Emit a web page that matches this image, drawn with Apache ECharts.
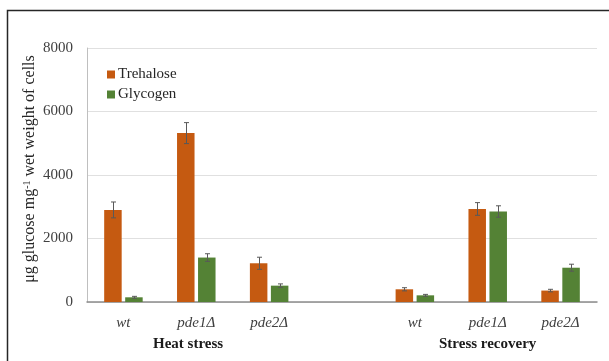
<!DOCTYPE html>
<html>
<head>
<meta charset="utf-8">
<script src="https://cdn.jsdelivr.net/npm/echarts@6/dist/echarts.min.js"></script>
<style>
html,body{margin:0;padding:0;background:#fff;}
#c{width:609px;height:361px;}
</style>
</head>
<body>
<div id="c"></div>
<script>
var categories = ['wt', 'pde1Δ', 'pde2Δ', '', 'wt', 'pde1Δ', 'pde2Δ'];
var groupLabels = ['Heat stress', 'Stress recovery'];
var trehalose = [2900, 5320, 1220, null, 400, 2930, 360];
var trehaloseErr = [250, 330, 190, null, 50, 200, 40];
var glycogen = [148, 1400, 515, null, 210, 2850, 1080];
var glycogenErr = [30, 120, 55, null, 30, 180, 110];
var yTicks = [0, 2000, 4000, 6000, 8000];

var FONT = '"Liberation Serif", "Times New Roman", serif';
var BAR_W = 17.5, BAR_GAP = 3.5;
var ORANGE = '#C55A11', GREEN = '#548235';

function errData(vals, errs) {
  var out = [];
  for (var i = 0; i < vals.length; i++) {
    if (vals[i] != null) out.push([i, vals[i], errs[i]]);
  }
  return out;
}
function errSeries(vals, errs, side) {
  return {
    type: 'custom',
    z: 5,
    silent: true,
    data: errData(vals, errs),
    encode: { x: 0, y: 1 },
    renderItem: function (params, api) {
      var i = api.value(0), v = api.value(1), e = api.value(2);
      var off = side * (BAR_W / 2 + BAR_GAP / 2);
      var top = api.coord([i, v + e]);
      var bot = api.coord([i, v - e]);
      var x = Math.round(top[0] + off) + 0.5;
      var cap = 2.5;
      var st = { stroke: '#595959', lineWidth: 1 };
      return {
        type: 'group',
        children: [
          { type: 'line', shape: { x1: x, y1: top[1], x2: x, y2: bot[1] }, style: st },
          { type: 'line', shape: { x1: x - cap, y1: top[1], x2: x + cap, y2: top[1] }, style: st },
          { type: 'line', shape: { x1: x - cap, y1: bot[1], x2: x + cap, y2: bot[1] }, style: st }
        ]
      };
    }
  };
}

var chart = echarts.init(document.getElementById('c'), null, { renderer: 'canvas' });
chart.setOption({
  animation: false,
  backgroundColor: '#fff',
  textStyle: { fontFamily: FONT },
  grid: { left: 87, right: 12, top: 48, bottom: 59 },
  legend: {
    orient: 'vertical',
    left: 102, top: 62,
    itemWidth: 8, itemHeight: 8, itemGap: 5,
    icon: 'rect',
    data: ['Trehalose', 'Glycogen'],
    textStyle: { fontFamily: FONT, fontSize: 15, color: '#262626', padding: [0, 0, 0, -2] }
  },
  xAxis: {
    type: 'category',
    data: categories,
    axisLine: { lineStyle: { color: '#8c8c8c', width: 1.5 } },
    axisTick: { show: false },
    axisLabel: { fontFamily: FONT, fontStyle: 'italic', fontSize: 15, color: '#404040', margin: 14, interval: 0 }
  },
  yAxis: {
    type: 'value',
    min: 0, max: 8000, interval: 2000,
    name: 'μg glucose mg{sup|-1} wet weight of cells',
    nameLocation: 'middle',
    nameGap: 49,
    nameMoveOverlap: false,
    nameRotate: 90,
    nameTextStyle: {
      fontFamily: FONT, fontSize: 16, color: '#262626',
      padding: [0, 0, 0, 12],
      rich: { sup: { fontFamily: FONT, fontSize: 10, color: '#262626', verticalAlign: 'top', lineHeight: 16 } }
    },
    axisLine: { show: true, lineStyle: { color: '#bfbfbf', width: 1 } },
    axisTick: { show: false },
    splitLine: { lineStyle: { color: '#e0e0e0', width: 1 } },
    axisLabel: {
      fontFamily: FONT, fontSize: 15, color: '#404040', margin: 14,
      formatter: function (v) { return yTicks.indexOf(v) >= 0 ? String(v) : ''; }
    }
  },
  series: [
    { name: 'Trehalose', type: 'bar', data: trehalose, barWidth: BAR_W, barGap: '20%', itemStyle: { color: ORANGE } },
    { name: 'Glycogen', type: 'bar', data: glycogen, barWidth: BAR_W, barGap: '20%', itemStyle: { color: GREEN } },
    errSeries(trehalose, trehaloseErr, -1),
    errSeries(glycogen, glycogenErr, 1)
  ],
  graphic: [
    { type: 'rect', shape: { x: 7.5, y: 10.5, width: 700, height: 500 }, style: { fill: 'none', stroke: '#262626', lineWidth: 1.5 }, silent: true },
    { type: 'text', left: 153, top: 337, style: { text: groupLabels[0], font: 'bold 15px ' + FONT, fill: '#1a1a1a' } },
    { type: 'text', left: 439, top: 337, style: { text: groupLabels[1], font: 'bold 15px ' + FONT, fill: '#1a1a1a' } }
  ]
});
</script>
</body>
</html>
